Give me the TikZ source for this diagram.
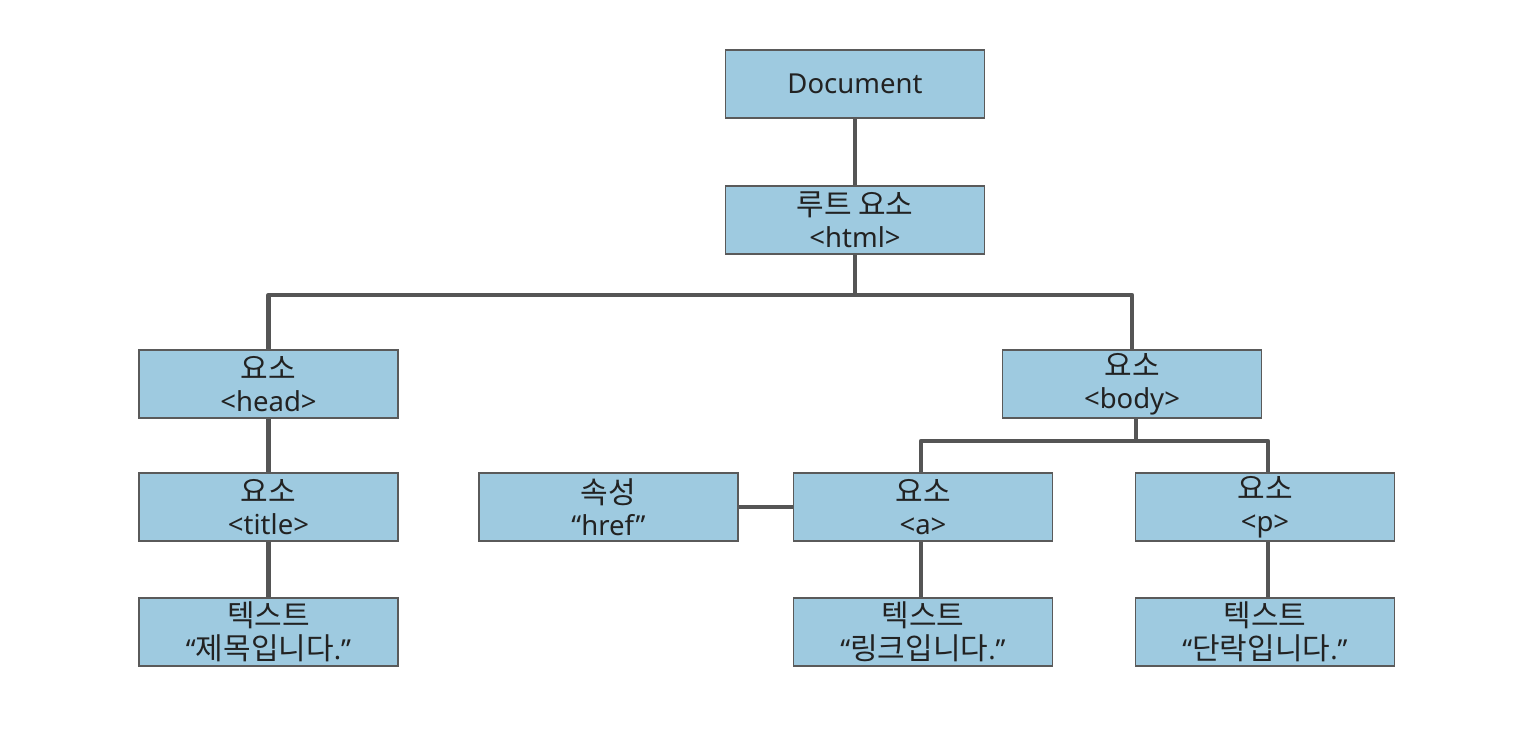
\documentclass[tikz,border=0pt]{standalone}
\usepackage{fontspec}
\setmainfont{Noto Sans}
\newfontfamily\kr{Noto Sans CJK KR}
\newcommand\K[1]{{\kr\fontsize{30}{33}\selectfont #1}}
\definecolor{boxfill}{HTML}{9ECAE0}
\definecolor{boxline}{HTML}{5A5A5A}
\definecolor{conn}{HTML}{555555}
\definecolor{txt}{HTML}{222222}
\begin{document}
\begin{tikzpicture}[x=1pt,y=-1pt,
  box/.style={draw=boxline,line width=1.3pt,fill=boxfill,minimum width=259pt,minimum height=68pt,
    inner sep=0pt,align=center,text=txt,font=\fontsize{27.5}{32.5}\selectfont},
  link/.style={draw=conn,line width=4.5pt}]
\useasboundingbox (0,0) rectangle (1528,740);
\fill[white] (0,0) rectangle (1528,740);
\coordinate (j1) at (855,295);
\coordinate (j2) at (1136,441);
\node[box] (doc) at (855,84) {Document};
\node[box] (root) at (855,220) {\K{루트 요소}\\<html>};
\node[box] (head) at (268.5,384) {\K{요소}\\<head>};
\node[box] (body) at (1132,384) {\K{요소}\\<body>};
\node[box] (title) at (268.5,507) {\K{요소}\\<title>};
\node[box] (href) at (608.5,507) {\K{속성}\\“href”};
\node[box] (a) at (923,507) {\K{요소}\\<a>};
\node[box] (p) at (1265,507) {\K{요소}\\<p>};
\node[box] (t1) at (268.5,632) {\K{텍스트}\\“\K{제목입니다}.”};
\node[box] (t2) at (923,632) {\K{텍스트}\\“\K{링크입니다}.”};
\node[box] (t3) at (1265,632) {\K{텍스트}\\“\K{단락입니다}.”};
\draw[link] (doc.south) -- (root.north);
\draw[link] (root.south) -- (j1);
\draw[link,line join=round] (j1) -| (head.north);
\draw[link,line join=round] (j1) -| (body.north);
\draw[link] (body.south -| j2) -- (j2);
\draw[link,line join=round] (j2) -| ([xshift=-2pt]a.north);
\draw[link,line join=round] (j2) -| ([xshift=3pt]p.north);
\draw[link] (head.south) -- (title.north);
\draw[link] (title.south) -- (t1.north);
\draw[link] (href.east) -- (a.west);
\draw[link] ([xshift=-2pt]a.south) -- ([xshift=-2pt]t2.north);
\draw[link] ([xshift=3pt]p.south) -- ([xshift=3pt]t3.north);
\end{tikzpicture}
\end{document}
